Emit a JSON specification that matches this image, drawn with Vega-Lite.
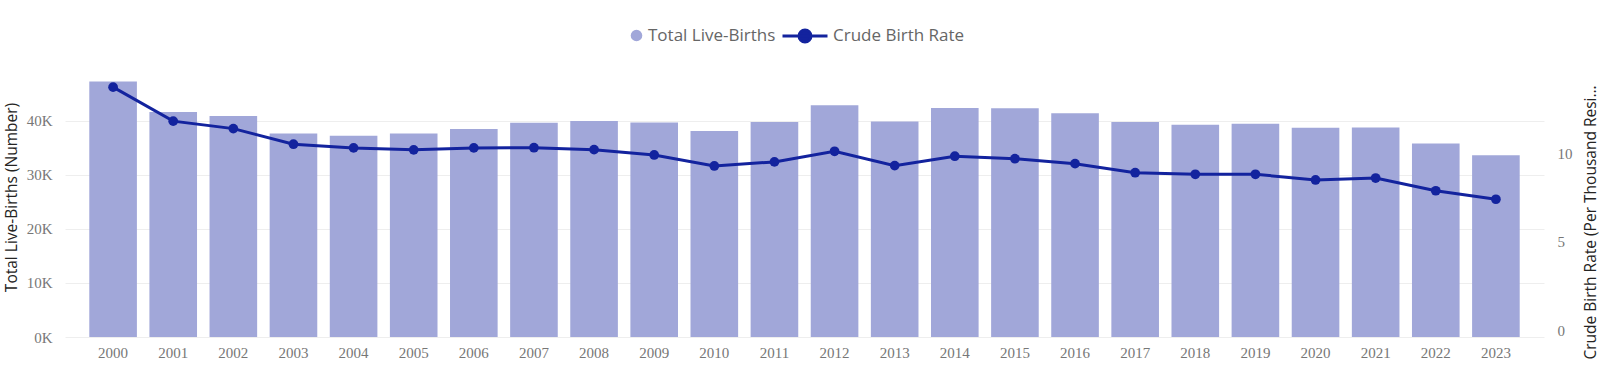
{
  "$schema": "https://vega.github.io/schema/vega-lite/v6.json",
  "autosize": {"type": "none"},
  "width": 1479,
  "height": 267,
  "padding": {"left": 65, "top": 70, "right": 56, "bottom": 32},
  "background": "white",
  "data": {
    "values": [
      {"year": "2000", "births": 47250, "rate": 13.73},
      {"year": "2001", "births": 41630, "rate": 11.81},
      {"year": "2002", "births": 40890, "rate": 11.39},
      {"year": "2003", "births": 37660, "rate": 10.51},
      {"year": "2004", "births": 37240, "rate": 10.30},
      {"year": "2005", "births": 37660, "rate": 10.19},
      {"year": "2006", "births": 38480, "rate": 10.30},
      {"year": "2007", "births": 39620, "rate": 10.31},
      {"year": "2008", "births": 39960, "rate": 10.20},
      {"year": "2009", "births": 39700, "rate": 9.90},
      {"year": "2010", "births": 38100, "rate": 9.28},
      {"year": "2011", "births": 39780, "rate": 9.51},
      {"year": "2012", "births": 42860, "rate": 10.11},
      {"year": "2013", "births": 39890, "rate": 9.30},
      {"year": "2014", "births": 42370, "rate": 9.83},
      {"year": "2015", "births": 42300, "rate": 9.69},
      {"year": "2016", "births": 41420, "rate": 9.41},
      {"year": "2017", "births": 39780, "rate": 8.90},
      {"year": "2018", "births": 39280, "rate": 8.81},
      {"year": "2019", "births": 39460, "rate": 8.81},
      {"year": "2020", "births": 38720, "rate": 8.49},
      {"year": "2021", "births": 38780, "rate": 8.60},
      {"year": "2022", "births": 35810, "rate": 7.88},
      {"year": "2023", "births": 33650, "rate": 7.40}
    ]
  },
  "encoding": {
    "x": {
      "field": "year",
      "type": "ordinal",
      "scale": {"paddingInner": 0.208, "paddingOuter": 0.404},
      "axis": {
        "title": null,
        "labelAngle": 0,
        "domain": false,
        "ticks": false,
        "grid": false,
        "labelFont": "Liberation Serif",
        "labelFontSize": 15,
        "labelColor": "#777777",
        "labelPadding": 8
      }
    }
  },
  "layer": [
    {
      "mark": {"type": "bar", "opacity": 1},
      "encoding": {
        "y": {
          "field": "births",
          "type": "quantitative",
          "scale": {"domain": [0, 49400], "nice": false},
          "axis": {
            "title": "Total Live-Births (Number)",
            "values": [0, 10000, 20000, 30000, 40000],
            "labelExpr": "datum.value / 1000 + 'K'",
            "domain": false,
            "ticks": false,
            "grid": true,
            "gridColor": "#EEEEEE",
            "labelFont": "Liberation Serif",
            "labelFontSize": 15,
            "labelColor": "#777777",
            "labelPadding": 13,
            "titleFont": "Open Sans",
            "titleFontSize": 15.5,
            "titleFontWeight": "normal",
            "titleColor": "#252423",
            "titlePadding": 7,
            "titleY": 127
          }
        },
        "color": {
          "datum": "Total Live-Births",
          "scale": {"domain": ["Total Live-Births"], "range": ["#A1A7D9"]},
          "legend": {
            "title": null,
            "orient": "none",
            "legendX": 563,
            "legendY": -43,
            "symbolType": "circle",
            "symbolSize": 135,
            "symbolStrokeWidth": 0,
            "labelFont": "Open Sans",
            "labelFontSize": 17,
            "labelColor": "#666666",
            "labelOffset": 3
          }
        }
      }
    },
    {
      "mark": {"type": "line", "strokeWidth": 3, "point": {"filled": true, "size": 95, "opacity": 1}},
      "encoding": {
        "y": {
          "field": "rate",
          "type": "quantitative",
          "scale": {"domain": [-0.38, 14.7], "nice": false, "zero": false},
          "axis": {
            "orient": "right",
            "title": "Crude Birth Rate (Per Thousand Residents)",
            "values": [0, 5, 10],
            "domain": false,
            "grid": false,
            "ticks": false,
            "labelFont": "Liberation Serif",
            "labelFontSize": 15,
            "labelColor": "#777777",
            "labelAlign": "left",
            "labelPadding": 13,
            "titleFont": "Open Sans",
            "titleFontSize": 15.5,
            "titleFontWeight": "normal",
            "titleColor": "#252423",
            "titleAngle": 270,
            "titleBaseline": "top",
            "titlePadding": 11,
            "titleLimit": 277,
            "titleY": 152
          }
        },
        "color": {
          "datum": "Crude Birth Rate",
          "scale": {"domain": ["Crude Birth Rate"], "range": ["#13239E"]},
          "legend": {
            "title": null,
            "orient": "none",
            "legendX": 716,
            "legendY": -43,
            "symbolType": "M-3,0L3,0M0.8,0A0.8,0.8,0,1,1,-0.8,0A0.8,0.8,0,1,1,0.8,0Z",
            "symbolSize": 225,
            "symbolOffset": 15,
            "symbolStrokeWidth": 3,
            "symbolStrokeColor": "#13239E",
            "symbolFillColor": "#13239E",
            "labelFont": "Open Sans",
            "labelFontSize": 17,
            "labelColor": "#666666",
            "labelOffset": 19,
            "encode": {"symbols": {"update": {"fill": {"value": "#13239E"}, "stroke": {"value": "#13239E"}, "strokeWidth": {"value": 3}}}}
          }
        }
      }
    }
  ],
  "resolve": {"scale": {"y": "independent", "color": "independent"}, "legend": {"color": "independent"}},
  "config": {
    "view": {"stroke": null}
  }
}
